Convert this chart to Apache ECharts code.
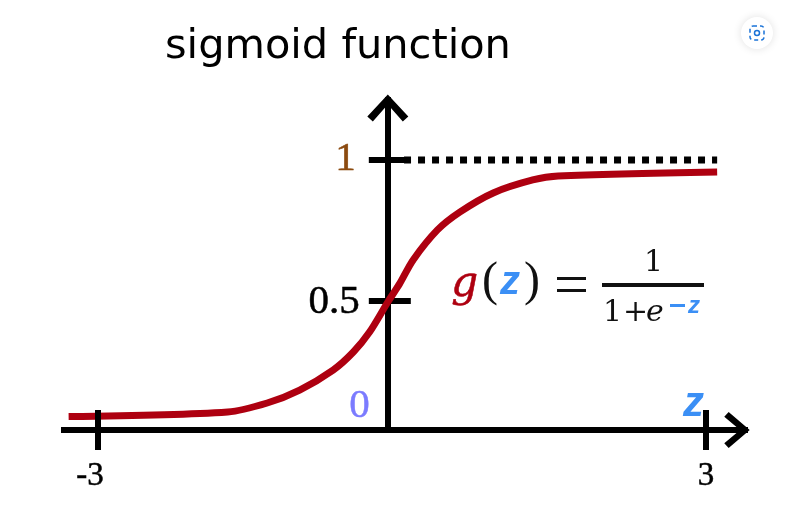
<!DOCTYPE html>
<html><head><meta charset="utf-8">
<style>html,body{margin:0;padding:0;background:#fff}#c{width:785px;height:511px}</style>
<script src="https://cdn.jsdelivr.net/npm/echarts@6/dist/echarts.min.js"></script>
</head><body><div id="c"></div>
<script>
const titleText = 'sigmoid function';
const curveZ = [-3.29,-1.72,-1.33,-1.01,-0.68,-0.48,-0.32,-0.14,-0.02,0.11,0.35,0.57,0.90,1.29,1.54,3.11];
const curveG = [0.050,0.067,0.100,0.148,0.222,0.289,0.363,0.474,0.544,0.630,0.741,0.807,0.878,0.926,0.941,0.956];
const asymptoteZ = [0.02,3.11];
const asymptoteG = [1,1];
const xTicks = [-3,3];
const yTickValues = [0,0.478,1];
const yTickLabels = ['0','0.5','1'];
const yAxisAtZ = -0.14;
const yTickMarks = [0.478,1];

const pts = (a,b)=>a.map((v,i)=>[v,b[i]]);
const chevron = 'path://M20.5 0 L41 22 L35.5 27 L20.5 10 L5.5 27 L0 22 Z';
const chevronX = 'path://M20.5 0 L41 24 L35.5 29 L20.5 11 L5.5 29 L0 24 Z';
const serif = '"Liberation Serif", serif';
const dserif = '"DejaVu Serif", serif';
const sans = '"Liberation Sans", sans-serif';
const blue = '#3b8ff5', red = '#ae0010', ink = '#111';
const heavy = c=>({textBorderColor:c,textBorderWidth:0.5});
const chart = echarts.init(document.getElementById('c'));
const pxPerZ = 608/6, xMin = -3-37/pxPerZ, xMax = 3+42/pxPerZ;
chart.setOption({
  animation:false,
  backgroundColor:'#fff',
  title:{text:titleText,left:160,top:21,textStyle:{fontFamily:'"DejaVu Sans",sans-serif',fontWeight:'normal',fontSize:41.5,color:'#000'}},
  grid:{left:61,width:687,top:97,height:333},
  xAxis:{type:'value',min:xMin,max:xMax,splitLine:{show:false},
    axisLine:{onZero:false,lineStyle:{color:'#000',width:6,cap:'butt'},symbol:['none',chevronX],symbolSize:[36,26],symbolOffset:[0,-11]},
    axisTick:{show:false},
    axisLabel:{customValues:xTicks,margin:30,formatter:v=>v<0?'{neg|'+v+'}':'{pos|'+v+'}',
      rich:{neg:{fontFamily:serif,fontSize:33,color:'#000',padding:[0,16,0,0],...heavy('#000')},pos:{fontFamily:serif,fontSize:33,color:'#000',...heavy('#000')}}}},
  yAxis:{type:'value',min:0,max:333/270,splitLine:{show:false},
    offset:-((yAxisAtZ-xMin)*pxPerZ),
    axisLine:{onZero:false,lineStyle:{color:'#000',width:6,cap:'butt'},symbol:['none',chevron],symbolSize:[41,27],symbolOffset:[0,-11]},
    axisTick:{show:false},
    axisLabel:{customValues:yTickValues,margin:18,
      formatter:v=>{const i=yTickValues.indexOf(v);return '{l'+i+'|'+yTickLabels[i]+'}';},
      rich:{
        l0:{fontFamily:serif,fontSize:41,color:'#7b7bff',padding:[0,0,48,0],...heavy('#7b7bff')},
        l1:{fontFamily:serif,fontSize:41,color:'#000',padding:[2,10,0,0],...heavy('#000')},
        l2:{fontFamily:serif,fontSize:41,color:'#8b4a0f',padding:[0,14,2,0],...heavy('#8b4a0f')}}}},
  series:[
    {type:'line',z:2,clip:false,showSymbol:false,data:pts(asymptoteZ,asymptoteG),lineStyle:{color:'#000',width:7,type:[7,7],cap:'butt'}},
    {type:'scatter',z:2,clip:false,symbol:'rect',symbolSize:[42,6],symbolOffset:[2,0],data:yTickMarks.map(v=>[yAxisAtZ,v]),itemStyle:{color:'#000',opacity:1}},
    {type:'line',z:3,clip:false,showSymbol:false,smooth:0.3,data:pts(curveZ,curveG),lineStyle:{color:red,width:7,cap:'butt',join:'round'}},
    {type:'scatter',z:5,clip:false,symbol:'rect',symbolSize:[6,40],data:xTicks.map(v=>[v,0]),itemStyle:{color:'#000',opacity:1}}
  ],
  graphic:[
    {type:'text',left:451,top:264,style:{text:'g',font:'italic 42px '+dserif,fill:red,stroke:red,lineWidth:0.5}},
    {type:'text',left:482,top:258,style:{text:'(',font:'48px '+serif,fill:ink}},
    {type:'text',left:500,top:263,style:{text:'z',font:'italic bold 40px '+sans,fill:blue}},
    {type:'text',left:524,top:258,style:{text:')',font:'48px '+serif,fill:ink}},
    {type:'rect',shape:{x:557,y:277,width:29,height:3},style:{fill:ink}},
    {type:'rect',shape:{x:557,y:289,width:29,height:3},style:{fill:ink}},
    {type:'rect',shape:{x:602,y:283,width:102,height:4},style:{fill:ink}},
    {type:'text',left:644,top:248,style:{text:'1',font:'30px '+dserif,fill:ink}},
    {type:'text',left:603,top:298,style:{text:'1',font:'30px '+dserif,fill:ink}},
    {type:'text',left:623,top:298,style:{text:'+',font:'30px '+dserif,fill:ink}},
    {type:'text',left:646,top:298,style:{text:'e',font:'italic 30px '+dserif,fill:ink}},
    {type:'rect',shape:{x:670,y:304,width:15,height:3},style:{fill:blue}},
    {type:'text',left:688,top:294,style:{text:'z',font:'italic bold 24px '+sans,fill:blue}},
    {type:'text',left:683,top:383,style:{text:'z',font:'italic bold 42px '+sans,fill:blue}},
    {type:'circle',shape:{cx:757,cy:33,r:16},style:{fill:'#fff',shadowBlur:8,shadowColor:'rgba(0,0,0,0.12)'}},
    {type:'rect',shape:{x:750,y:26,width:14,height:14,r:3},style:{fill:'none',stroke:'#1a73d8',lineWidth:1.5,lineDash:[4,3]}},
    {type:'circle',shape:{cx:757,cy:33,r:2.5},style:{fill:'none',stroke:'#1a73d8',lineWidth:1.5}}
  ]
});
</script></body></html>
